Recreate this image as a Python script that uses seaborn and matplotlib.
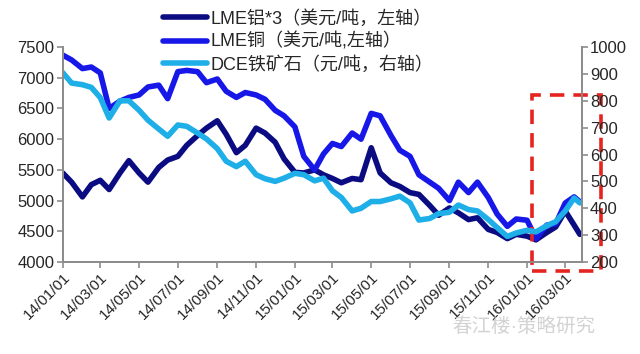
import pandas as pd
import matplotlib.pyplot as plt
import matplotlib.dates as mdates
from matplotlib.patches import Rectangle
import seaborn as sns

# semi-monthly readings (1st / 15th) plus the last day shown
dates = list(pd.date_range('2014-01-01', '2016-03-15', freq='SMS')) + [pd.Timestamp('2016-03-24')]

# LME copper, USD/t (left axis)
copper = [7370, 7290, 7150, 7175, 7080, 6500, 6620, 6680, 6720, 6850,
          6880, 6660, 7100, 7120, 7100, 6920, 6980, 6780, 6680, 6760,
          6720, 6650, 6470, 6380, 6200, 5720, 5500, 5760, 5930, 5880,
          6100, 6000, 6420, 6380, 6060, 5820, 5720, 5420, 5300, 5200,
          5000, 5300, 5130, 5300, 5050, 4780, 4580, 4700, 4680, 4380,
          4600, 4620, 4960, 5060, 4980]

# LME aluminium x3, USD/t (left axis)
aluminium3 = [5450, 5300, 5060, 5260, 5330, 5180, 5450, 5650, 5450, 5300,
              5540, 5660, 5720, 5900, 6060, 6180, 6300, 6080, 5780, 5900,
              6180, 6100, 5950, 5680, 5460, 5450, 5500, 5420, 5360, 5290,
              5360, 5340, 5860, 5450, 5290, 5230, 5130, 5100, 4920, 4760,
              4880, 4800, 4690, 4720, 4530, 4480, 4380, 4450, 4420, 4360,
              4480, 4570, 4830, 4600, 4450]

# DCE iron ore, CNY/t (right axis)
iron_ore = [905, 866, 860, 850, 812, 736, 800, 800, 765, 728,
            695, 668, 710, 705, 680, 658, 622, 575, 555, 575,
            525, 510, 500, 512, 530, 525, 502, 512, 465, 440,
            390, 400, 425, 425, 435, 445, 420, 356, 362, 380,
            385, 412, 395, 390, 358, 328, 295, 308, 318, 312,
            335, 350, 390, 438, 420]

labels = ['LME铝*3（美元/吨，左轴）', 'LME铜（美元/吨,左轴）', 'DCE铁矿石（元/吨，右轴）']
colors = ['#0c0c82', '#1717e8', '#1eaee8']

# highlighted window (dashed box)
box_start, box_end = pd.Timestamp('2016-01-08'), pd.Timestamp('2016-04-26')
box_low, box_high = 3850, 6720

df = pd.DataFrame({'date': dates, 'alu': aluminium3, 'cu': copper, 'ore': iron_ore})

sns.set_theme(style='white')
plt.rcParams['font.family'] = ['Liberation Sans', 'Noto Sans CJK SC', 'DejaVu Sans']

fig = plt.figure(figsize=(6.4, 3.54), dpi=100)
ax = fig.add_axes([0.098, 0.26, 0.811, 0.607])
ax2 = ax.twinx()

sns.lineplot(data=df, x='date', y='alu', ax=ax, color=colors[0], lw=4, label=labels[0], legend=False)
sns.lineplot(data=df, x='date', y='cu', ax=ax, color=colors[1], lw=4, label=labels[1], legend=False)
sns.lineplot(data=df, x='date', y='ore', ax=ax2, color=colors[2], lw=4, label=labels[2], legend=False)

ax.set_ylim(4000, 7500)
ax.set_yticks(range(4000, 7501, 500))
ax2.set_ylim(200, 1000)
ax2.set_yticks(range(200, 1001, 100))
ax.set_xlim(pd.Timestamp('2014-01-01'), pd.Timestamp('2016-03-27'))
ax.xaxis.set_major_locator(mdates.MonthLocator(bymonth=[1, 3, 5, 7, 9, 11]))
ax.xaxis.set_major_formatter(mdates.DateFormatter('%y/%m/%d'))

for a in (ax, ax2):
    a.set_xlabel('')
    a.set_ylabel('')
    a.spines['top'].set_visible(False)
    for s in a.spines.values():
        s.set_color('#8c8c8c')
        s.set_linewidth(1.3)
    a.tick_params(axis='both', length=4, width=1.2, color='#8c8c8c', labelsize=12, pad=2)
ax.tick_params(axis='y', left=True)
ax.tick_params(axis='x', bottom=True, labelsize=11)
ax2.tick_params(axis='y', right=True)
plt.setp(ax.get_xticklabels(), rotation=45, ha='right', rotation_mode='anchor')

rect = Rectangle((mdates.date2num(box_start), box_low),
                 mdates.date2num(box_end) - mdates.date2num(box_start), box_high - box_low,
                 fill=False, edgecolor='#e52420', lw=2.6, linestyle=(0, (4, 2.5)),
                 clip_on=False, zorder=10)
ax.add_patch(rect)

h1, l1 = ax.get_legend_handles_labels()
h2, l2 = ax2.get_legend_handles_labels()
fig.legend(h1 + h2, l1 + l2, loc='upper left', bbox_to_anchor=(0.255, 0.972),
           frameon=False, fontsize=13, handlelength=2.4, handletextpad=0.2,
           labelspacing=0.28, borderpad=0, borderaxespad=0)

fig.text(0.93, 0.05, '春江楼·策略研究', ha='right', va='bottom', fontsize=14, color='#c8c8c8', alpha=0.8)

fig.savefig('out.png', dpi=100)
